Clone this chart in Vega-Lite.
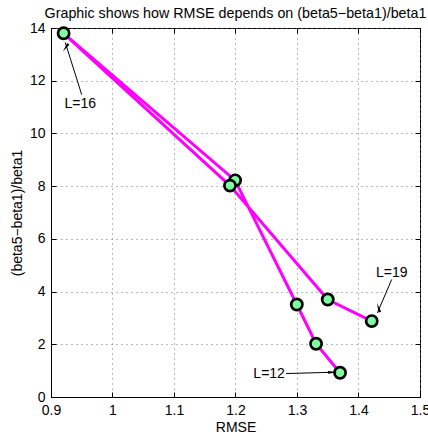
{
  "$schema": "https://vega.github.io/schema/vega-lite/v6.json",
  "width": 369,
  "height": 369,
  "autosize": {"type": "none"},
  "padding": {"left": 51, "top": 28, "right": 8, "bottom": 40},
  "background": "white",
  "config": {
    "font": "Liberation Sans",
    "view": {"stroke": "black", "strokeWidth": 1},
    "axis": {
      "labelFont": "Liberation Sans",
      "titleFont": "Liberation Sans",
      "labelFontSize": 14,
      "titleFontSize": 14,
      "titleFontWeight": "normal",
      "labelColor": "black",
      "titleColor": "black",
      "tickColor": "black",
      "domainColor": "black",
      "tickSize": -5,
      "minExtent": 0,
      "labelFlush": false,
      "labelOverlap": false
    }
  },
  "title": {
    "text": "Graphic shows how RMSE depends on (beta5−beta1)/beta1",
    "font": "Liberation Sans",
    "fontSize": 14.3,
    "fontWeight": "normal",
    "color": "black",
    "anchor": "middle",
    "frame": "group",
    "baseline": "alphabetic",
    "offset": -11
  },
  "datasets": {
    "series": [
      {"L": 12, "RMSE": 1.370, "ratio": 0.92},
      {"L": 13, "RMSE": 1.331, "ratio": 2.02},
      {"L": 14, "RMSE": 1.2997, "ratio": 3.51},
      {"L": 15, "RMSE": 1.1994, "ratio": 8.22},
      {"L": 16, "RMSE": 0.9205, "ratio": 13.8},
      {"L": 17, "RMSE": 1.191, "ratio": 8.02},
      {"L": 18, "RMSE": 1.35, "ratio": 3.70},
      {"L": 19, "RMSE": 1.4215, "ratio": 2.88}
    ],
    "notes": [
      {"L": 12, "label": "L=12", "tx": 1.2547, "ty": 0.854, "x1": 1.2823, "y1": 0.89, "x2": 1.3619, "y2": 0.94, "hx": 1.3554, "hy": 0.937},
      {"L": 16, "label": "L=16", "tx": 0.9476, "ty": 11.1, "x1": 0.9499, "y1": 11.47, "x2": 0.9232, "y2": 13.45, "hx": 0.9252, "hy": 13.30},
      {"L": 19, "label": "L=19", "tx": 1.454, "ty": 4.71, "x1": 1.454, "y1": 4.46, "x2": 1.4307, "y2": 3.19, "hx": 1.4332, "hy": 3.335}
    ]
  },
  "layer": [
    {
      "data": {"name": "series"},
      "mark": {"type": "line", "color": "#ff00ff", "strokeWidth": 3},
      "encoding": {
        "x": {
          "field": "RMSE", "type": "quantitative",
          "scale": {"domain": [0.9, 1.5], "nice": false, "zero": false},
          "axis": {
            "orient": "bottom",
            "values": [0.9, 1.0, 1.1, 1.2, 1.3, 1.4, 1.5],
            "format": ".1~f",
            "title": "RMSE",
            "grid": true,
            "gridColor": "#777777",
            "gridDash": [1, 4],
            "labelPadding": 11,
            "titlePadding": 3
          }
        },
        "y": {
          "field": "ratio", "type": "quantitative",
          "scale": {"domain": [0, 14], "nice": false, "zero": false},
          "axis": {
            "orient": "left",
            "values": [0, 2, 4, 6, 8, 10, 12, 14],
            "title": "(beta5−beta1)/beta1",
            "grid": true,
            "gridColor": "#777777",
            "gridDash": [1, 4],
            "labelPadding": 11,
            "titlePadding": 5
          }
        },
        "order": {"field": "L", "type": "quantitative"}
      }
    },
    {
      "data": {"name": "series"},
      "mark": {"type": "point", "shape": "circle", "filled": true, "fill": "#7dffa1", "stroke": "black", "strokeWidth": 2.7, "size": 125, "opacity": 1},
      "encoding": {
        "x": {"field": "RMSE", "type": "quantitative", "axis": {"orient": "top", "labels": false, "grid": false, "domain": false, "title": null, "values": [0.9, 1.0, 1.1, 1.2, 1.3, 1.4, 1.5]}},
        "y": {"field": "ratio", "type": "quantitative", "axis": {"orient": "right", "labels": false, "grid": false, "domain": false, "title": null, "values": [0, 2, 4, 6, 8, 10, 12, 14]}}
      }
    },
    {
      "data": {"name": "notes"},
      "mark": {"type": "rule", "color": "black", "strokeWidth": 1},
      "encoding": {
        "x": {"field": "x1", "type": "quantitative", "axis": null},
        "y": {"field": "y1", "type": "quantitative", "axis": null},
        "x2": {"field": "x2"},
        "y2": {"field": "y2"}
      }
    },
    {
      "data": {"name": "notes"},
      "mark": {"type": "point", "shape": "wedge", "filled": true, "color": "black", "size": 120, "opacity": 1},
      "encoding": {
        "x": {"field": "hx", "type": "quantitative", "axis": null},
        "y": {"field": "hy", "type": "quantitative", "axis": null},
        "angle": {"field": "L", "type": "ordinal", "scale": {"domain": [12, 16, 19], "range": [88.5, 342, 203.4]}, "legend": null}
      }
    },
    {
      "data": {"name": "notes"},
      "mark": {"type": "text", "font": "Liberation Sans", "fontSize": 14, "color": "black", "align": "center", "baseline": "middle"},
      "encoding": {
        "x": {"field": "tx", "type": "quantitative", "axis": null},
        "y": {"field": "ty", "type": "quantitative", "axis": null},
        "text": {"field": "label"}
      }
    }
  ],
  "resolve": {"axis": {"x": "independent", "y": "independent"}}
}
